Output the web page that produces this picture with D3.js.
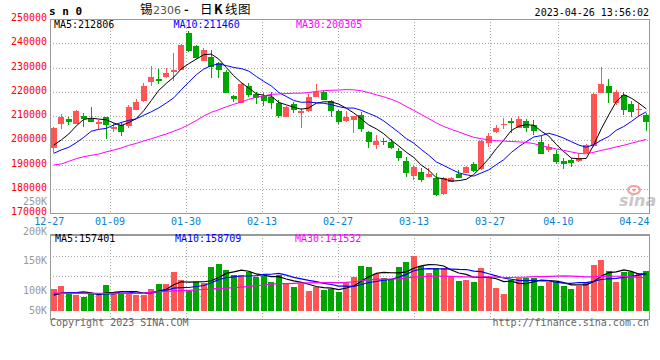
<!DOCTYPE html>
<html><head><meta charset="utf-8">
<script src="https://cdn.jsdelivr.net/npm/d3@7"></script>
<style>body{margin:0;background:#fff}svg{display:block}</style>
</head><body><svg id="c" width="660" height="360"></svg>
<script>
const dates = ["12-27","12-28","12-29","12-30","01-03","01-04","01-05","01-06","01-09","01-10","01-11","01-12","01-13","01-16","01-17","01-18","01-19","01-20","01-30","01-31","02-01","02-02","02-03","02-06","02-07","02-08","02-09","02-10","02-13","02-14","02-15","02-16","02-17","02-20","02-21","02-22","02-23","02-24","02-27","02-28","03-01","03-02","03-03","03-06","03-07","03-08","03-09","03-10","03-13","03-14","03-15","03-16","03-17","03-20","03-21","03-22","03-23","03-24","03-27","03-28","03-29","03-30","03-31","04-03","04-04","04-06","04-07","04-10","04-11","04-12","04-13","04-14","04-17","04-18","04-19","04-20","04-21","04-24","04-25","04-26"];
const open = [197000,206800,208600,206800,210000,208800,206600,209500,204800,206200,206000,212500,216300,224100,225300,226200,228300,229000,244300,238900,232800,234500,231800,228300,218400,215500,222400,219100,218200,218000,215200,209700,214800,211100,212200,218000,220000,216200,212000,208000,208300,210400,203400,198000,199700,199400,195700,191400,185400,186900,185000,184600,177800,182900,186000,186600,190100,188000,198700,203500,206200,208100,205200,208100,206300,199400,196000,194300,191600,191900,191400,194900,197600,219600,222400,215500,218700,215000,212400,210400];
const high = [205500,210700,209500,212500,211400,213700,208400,209700,207000,207500,214500,217000,223700,230600,229300,229700,236100,239500,245200,239200,237900,237200,232400,229000,218700,224100,223700,220000,219600,220000,216600,214100,215900,213200,219000,223200,220700,216600,212500,212200,210200,211800,203800,202200,200800,200400,196700,193200,189800,188400,188400,186600,184700,185000,187700,189400,191200,200100,203100,206300,209000,209000,210000,208600,208300,201700,198400,196000,192600,192600,194600,198300,219400,230100,225100,220700,220000,216300,215200,211100];
const low = [194700,204600,206200,206600,205600,207400,204600,200600,203300,201900,205200,212400,215800,222400,223100,225500,224600,228800,236500,233700,232500,225800,225500,219600,215900,215200,217700,215000,214100,213000,209000,209500,211100,205200,211800,217900,216500,209500,206600,207600,203100,203500,196900,196300,198000,196300,191400,185000,183600,182700,184900,177000,177400,182600,184300,186400,187000,187700,197300,202900,204500,203100,204900,203500,202200,194300,195300,190200,188000,188800,191200,194600,197300,219300,215500,214500,210400,209700,209700,203900];
const close = [205000,209500,207700,212000,208800,207500,207700,206300,205300,203500,213700,215900,222500,226200,224600,227900,229000,239400,236900,234000,237100,230300,229100,219600,216900,223200,218800,217400,216300,215500,210100,213700,212500,212200,218000,220000,216600,212200,207700,209700,210100,204600,199400,199800,199400,196700,192800,186600,189100,183600,186100,177400,184300,184300,184600,188800,187300,199700,201800,204900,206600,207000,208600,204900,203900,194300,197100,191200,190200,190500,192600,198000,219100,223200,219400,220000,212500,211800,212800,207700];
const volume = [97000,111000,78000,72000,63000,76000,72000,115000,84000,81000,78000,72000,72000,97000,120000,120000,173000,138000,88000,127000,122000,196000,209000,182000,160000,160000,172000,149000,154000,129000,159000,119000,107000,119000,89000,108000,93000,97000,85000,125000,152000,200000,196000,164000,148000,142000,196000,220000,246000,200000,170000,193000,193000,155000,133000,138000,129000,193000,152000,103000,75000,138000,145000,145000,145000,111000,130000,130000,111000,97000,111000,130000,205000,227000,178000,129000,173000,173000,168000,178000];
// averages shown before a full window exists
const ma5Head = [198000,200100,202600,205900];
const ma10Head = [194600,196000,197100,199000,201200,203700,204500,204900,206300];
const ma30Head = [189800,190200,191300,192400,193200,193800,194300,195200,196000,196800,197900,198700,199700,200600,201600,202600,203700,204900,206400,208100,210000,211500,212600,213800,214800,215800,216900,217700,218300];
const volMa5Head = [70000,78000,80600,80600];
const volMa10Head = [74700,78000,80600,80600,78000,76000,74700,74700,74700];
const volMa30Head = [80000,78000,78000,78000,78000,78000,78000,78000,78000,78000,78000,78000,78000,83000,85000,87000,89000,90000,91000,93000,95000,97000,100000,101000,103000,106000,109000,112000,115000];
const priceTicks = [250000,240000,230000,220000,210000,200000,190000,180000,170000];
const volTicks = [250000,200000,150000,100000,50000];
const volTickLabels = ["250K","200K","150K","100K","50K"];
const dateTicks = ["12-27","01-09","01-30","02-13","02-27","03-13","03-27","04-10","04-24"];
const priceLegend = [["MA5:","212806"],["MA10:","211460"],["MA30:","200305"]];
const volLegend = [["MA5:","157401"],["MA10:","158709"],["MA30:","141532"]];

const svg = d3.select("#c");
const mono = "'DejaVu Sans Mono', monospace";
const RED = "#ff5555", GREEN = "#00a600";
const L = 50, R = 649.5, T = 19, B = 213, VT = 234.5, VB = 318.5, VBASE = 310.7;
const maColors = ["#000000","#0000ff","#ff00ff"];

const idx = d3.range(dates.length);
const x = d3.scaleBand().domain(idx).range([50, 650]).paddingInner(0.2).paddingOuter(0.1);
const cx = i => x(i) + x.bandwidth() / 2;
const xg = d3.scaleLinear().domain([0, dates.length - 1]).range([49.2, 649.6]);
const yP = d3.scaleLinear().domain([170000, 250000]).range([B, T]);
const yV = d3.scaleLinear().domain([0, 340000]).range([VBASE, 234.8]);
const yVLab = d3.scaleLinear().domain([50000,100000,150000,200000,250000]).range([310,290,260.7,231,201]);

function movAvg(arr, n, head) {
  return arr.map((_, i) => i < n - 1 ? head[i] : d3.mean(arr.slice(i - n + 1, i + 1)));
}

const defs = svg.append("defs");
defs.append("clipPath").attr("id","cp").append("rect").attr("x",L).attr("y",T).attr("width",R-L).attr("height",B-T);
defs.append("clipPath").attr("id","cv").append("rect").attr("x",L).attr("y",VT).attr("width",R-L).attr("height",VB-VT);

// grids
const gridColor = "#aaaaaa";
const g = svg.append("g").attr("shape-rendering","crispEdges");
priceTicks.slice(1, -1).forEach(v => {
  g.append("line").attr("x1",L).attr("x2",R).attr("y1",Math.round(yP(v))+0.5).attr("y2",Math.round(yP(v))+0.5)
   .attr("stroke",gridColor).attr("stroke-dasharray","1,2");
});
[0,1,2].forEach(k => {
  const yy = VT + 21 + 20*k;
  g.append("line").attr("x1",L).attr("x2",R).attr("y1",Math.round(yy)+0.5).attr("y2",Math.round(yy)+0.5)
   .attr("stroke",gridColor).attr("stroke-dasharray","1,2");
});
dateTicks.slice(1, -1).forEach(d => {
  const xx = Math.round(xg(dates.indexOf(d))) + 0.5;
  g.append("line").attr("x1",xx).attr("x2",xx).attr("y1",T).attr("y2",B).attr("stroke",gridColor).attr("stroke-dasharray","1,2");
  g.append("line").attr("x1",xx).attr("x2",xx).attr("y1",VT).attr("y2",VB+3).attr("stroke",gridColor).attr("stroke-dasharray","1,2");
});

// watermark
const wm = svg.append("g");
wm.append("ellipse").attr("cx",634).attr("cy",190).attr("rx",6).attr("ry",4).attr("fill","none").attr("stroke","#f4a0a0").attr("stroke-width",2);
wm.append("circle").attr("cx",634).attr("cy",190).attr("r",1.5).attr("fill","#f4a0a0");
wm.append("text").attr("x",619).attr("y",206).attr("font-family","'DejaVu Sans', sans-serif").attr("font-style","italic")
  .attr("font-weight","bold").attr("font-size",16).attr("fill","#c8c8c8").text("sina");

// candles
const cg = svg.append("g").attr("clip-path","url(#cp)").attr("shape-rendering","crispEdges");
idx.forEach(i => {
  const up = close[i] >= open[i];
  const col = up ? RED : GREEN;
  const wx = Math.floor(cx(i)) + 0.5;
  cg.append("line").attr("x1",wx).attr("x2",wx).attr("y1",yP(high[i])).attr("y2",yP(low[i])).attr("stroke",col);
  const y1 = yP(Math.max(open[i], close[i])), y2 = yP(Math.min(open[i], close[i]));
  cg.append("rect").attr("x",Math.round(x(i))).attr("width",Math.round(x.bandwidth())).attr("y",y1)
    .attr("height",Math.max(1, y2 - y1)).attr("fill",col);
});

// price MAs
const priceMAs = [movAvg(close,5,ma5Head), movAvg(close,10,ma10Head), movAvg(close,30,ma30Head)];
const lineP = d3.line().x((d,i) => cx(i)).y(d => yP(d));
priceMAs.forEach((arr, k) => {
  svg.append("path").attr("clip-path","url(#cp)").attr("d",lineP(arr)).attr("fill","none").attr("stroke",maColors[k]).attr("stroke-width",1);
});

// volume bars
const vg = svg.append("g").attr("clip-path","url(#cv)").attr("shape-rendering","crispEdges");
idx.forEach(i => {
  const col = close[i] >= open[i] ? RED : GREEN;
  vg.append("rect").attr("x",Math.round(x(i))).attr("width",Math.round(x.bandwidth()))
    .attr("y",yV(volume[i])).attr("height",VBASE - yV(volume[i])).attr("fill",col);
});
const volMAs = [movAvg(volume,5,volMa5Head), movAvg(volume,10,volMa10Head), movAvg(volume,30,volMa30Head)];
const lineV = d3.line().x((d,i) => cx(i)).y(d => yV(d));
volMAs.forEach((arr, k) => {
  svg.append("path").attr("clip-path","url(#cv)").attr("d",lineV(arr)).attr("fill","none").attr("stroke",maColors[k]).attr("stroke-width",1.2);
});

// borders
const bg = svg.append("g").attr("shape-rendering","crispEdges").attr("fill","none");
bg.append("rect").attr("x",L+0.5).attr("y",T+0.5).attr("width",R-L-1).attr("height",B-T).attr("stroke","#999");
bg.append("rect").attr("x",L+0.5).attr("y",VT+0.5).attr("width",R-L-1).attr("height",VB-VT).attr("stroke","#999");
bg.append("line").attr("x1",L).attr("x2",R).attr("y1",VT+0.5).attr("y2",VT+0.5).attr("stroke","#999").attr("stroke-width",1.5);

// axis labels
svg.append("g").selectAll("text").data(priceTicks).join("text")
  .attr("x",47).attr("y",d => yP(d) - 1.5).attr("dominant-baseline","central").attr("text-anchor","end")
  .attr("font-family",mono).attr("font-size",10).attr("fill","#ff0000").text(d => d);
svg.append("g").selectAll("text").data(volTicks).join("text")
  .attr("x",47).attr("y",d => yVLab(d)).attr("dominant-baseline","central").attr("text-anchor","end")
  .attr("font-family",mono).attr("font-size",10).attr("fill","#999").text((d,i) => volTickLabels[i]);
svg.append("g").selectAll("text").data(dateTicks).join("text")
  .attr("x",d => xg(dates.indexOf(d))).attr("y",225).attr("text-anchor","middle")
  .attr("font-family",mono).attr("font-size",10).attr("fill","#0a80d0").text(d => d);

// legends
const legX = [54, 173.5, 296];
priceLegend.forEach((p, k) => {
  svg.append("text").attr("x",legX[k]).attr("y",27.5).attr("font-family",mono).attr("font-size",10).attr("fill",maColors[k]).text(p[0]+p[1]);
});
const vlegX = [55, 175, 295];
volLegend.forEach((p, k) => {
  svg.append("text").attr("x",vlegX[k]).attr("y",242).attr("font-family",mono).attr("font-size",10).attr("fill",maColors[k]).text(p[0]+p[1]);
});

// header
svg.append("text").attr("x",49).attr("y",15).attr("font-family",mono).attr("font-weight","bold").attr("font-size",11).attr("fill","#000").text("s n 0");
const cjk = "'Noto Sans CJK SC', sans-serif";
const titleParts = [["锡",140,cjk,12.5,"#000","normal"],["2306",153,"'DejaVu Sans', sans-serif",11,"#555","normal"],
  ["-",184,cjk,12.5,"#000","bold"],["日",200,cjk,12.5,"#000","normal"],["K",214,cjk,12.5,"#000","bold"],
  ["线",225,cjk,12.5,"#000","normal"],["图",238,cjk,12.5,"#000","normal"]];
titleParts.forEach(p => {
  svg.append("text").attr("x",p[1]).attr("y",14).attr("font-family",p[2]).attr("font-size",p[3])
    .attr("fill",p[4]).attr("font-weight",p[5]).text(p[0]);
});
svg.append("text").attr("x",649).attr("y",15.5).attr("text-anchor","end").attr("font-family",mono).attr("font-size",10).attr("fill","#000").text("2023-04-26 13:56:02");

// footer
svg.append("text").attr("x",50).attr("y",325.5).attr("font-family",mono).attr("font-size",10).attr("fill","#666").text("Copyright 2023 SINA.COM");
svg.append("text").attr("x",649).attr("y",325.5).attr("text-anchor","end").attr("font-family",mono).attr("font-size",10).attr("fill","#666").text("http://finance.sina.com.cn");
</script>
</body></html>
